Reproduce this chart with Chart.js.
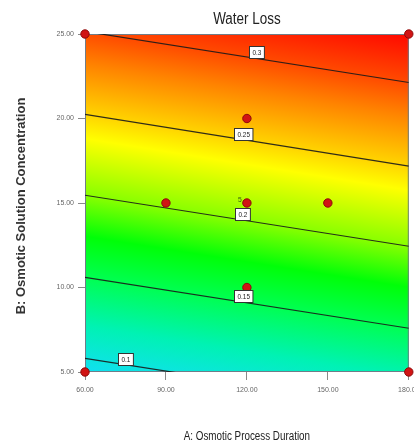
<!DOCTYPE html>
<html>
<head>
<meta charset="utf-8">
<title>Water Loss</title>
<script src="https://cdn.jsdelivr.net/npm/chart.js@4.4.1/dist/chart.umd.min.js"></script>
<style>
  html, body { margin: 0; padding: 0; background: #fff; overflow: hidden; }
  #wrap { width: 414px; height: 444px; }
</style>
</head>
<body>
<div id="wrap"><canvas id="chart" width="414" height="444"></canvas></div>
<script>
// A: osmotic process duration, B: osmotic solution concentration
const durationRange = [60, 180]
const concRange = [5, 25]

// design points (centre point has 5 replicates)
const designDuration = [60, 180, 60, 180, 120, 120, 90, 150, 120]
const designConc = [5, 5, 25, 25, 10, 20, 15, 15, 15]
const centreReplicates = 5

// contour lines: concentration where each level crosses A = 60 and A = 180
const contourLevels = [0.1, 0.15, 0.2, 0.25, 0.3]
const contourConcAtStart = [5.81, 10.60, 15.46, 20.25, 25.15]
const contourConcAtEnd = [2.79, 7.59, 12.44, 17.18, 22.13]
const contourLabelDuration = [75, 118.7, 118.5, 118.7, 123.5]

// colour ramp of the response surface
const rampLevels = [0.05, 0.09, 0.12, 0.15, 0.175, 0.2, 0.235, 0.25, 0.28, 0.3, 0.33, 0.36]
const rampColors = ['#00b8ff', '#12def4', '#00f2b4', '#00ff52', '#00ff08', '#88ff00',
  '#ffff00', '#ffd400', '#ff8400', '#ff4a00', '#ff0600', '#ff0000']

const chartTitle = 'Water Loss'
const xTitle = 'A: Osmotic Process Duration'
const yTitle = 'B: Osmotic Solution Concentration'

const sans = "'Liberation Sans', Arial, sans-serif"

function contourConc(i, a) {
  const t = (a - durationRange[0]) / (durationRange[1] - durationRange[0])
  return contourConcAtStart[i] + (contourConcAtEnd[i] - contourConcAtStart[i]) * t
}

// concentration giving a response level at duration a (piecewise between contours)
function concForLevel(level, a) {
  const n = contourLevels.length
  let j = 0
  while (j < n - 2 && level > contourLevels[j + 1]) j++
  const l0 = contourLevels[j], l1 = contourLevels[j + 1]
  const b0 = contourConc(j, a), b1 = contourConc(j + 1, a)
  return b0 + (b1 - b0) * (level - l0) / (l1 - l0)
}

// text squeezed horizontally, like a narrow typeface
function narrowText(ctx, text, x, y, size, squeeze) {
  ctx.save()
  ctx.font = size + 'px ' + sans
  ctx.translate(x, y)
  ctx.scale(squeeze, 1)
  ctx.fillText(text, 0, 0)
  ctx.restore()
}

const surfaceFill = {
  id: 'surfaceFill',
  beforeDatasetsDraw(chart) {
    const { ctx, chartArea: { left, right, top, bottom }, scales: { x, y } } = chart
    ctx.save()
    for (let px = Math.floor(left); px < Math.ceil(right); px++) {
      const a = x.getValueForPixel(px + 0.5)
      const ys = rampLevels.map(v => y.getPixelForValue(concForLevel(v, a)))
      const y0 = ys[0], y1 = ys[ys.length - 1]
      const grad = ctx.createLinearGradient(0, y0, 0, y1)
      ys.forEach((yy, i) => grad.addColorStop((yy - y0) / (y1 - y0), rampColors[i]))
      ctx.fillStyle = grad
      ctx.fillRect(px, top, 1, bottom - top)
    }
    ctx.strokeStyle = '#6f7d88'
    ctx.lineWidth = 1
    ctx.strokeRect(left + 0.5, top + 0.5, right - left - 1, bottom - top - 1)
    ctx.restore()
  }
}

const contourLabels = {
  id: 'contourLabels',
  afterDatasetsDraw(chart) {
    const { ctx, scales: { x, y } } = chart
    ctx.save()
    ctx.textAlign = 'center'
    ctx.textBaseline = 'middle'
    contourLevels.forEach((level, i) => {
      const a = contourLabelDuration[i]
      const px = x.getPixelForValue(a)
      const py = y.getPixelForValue(contourConc(i, a))
      const text = String(level)
      ctx.font = '8px ' + sans
      const w = ctx.measureText(text).width * 0.8 + 6
      const h = 12
      const bx = Math.round(px - w / 2) + 0.5
      const by = Math.round(py - h) + 0.5
      ctx.fillStyle = '#ffffff'
      ctx.fillRect(bx, by, w, h)
      ctx.strokeStyle = '#333'
      ctx.strokeRect(bx, by, w, h)
      ctx.fillStyle = '#222'
      narrowText(ctx, text, bx + w / 2, by + h / 2 + 0.5, 8, 0.8)
    })
    // replicate count beside the centre point
    ctx.fillStyle = '#2f5a10'
    narrowText(ctx, String(centreReplicates), x.getPixelForValue(120) - 7, y.getPixelForValue(15) - 3, 8, 0.85)
    ctx.restore()
  }
}

const axisTitles = {
  id: 'axisTitles',
  afterDraw(chart) {
    const { ctx, chartArea: { left, right, top, bottom } } = chart
    const cx = (left + right) / 2
    ctx.save()
    ctx.textAlign = 'center'
    ctx.textBaseline = 'middle'
    ctx.fillStyle = '#222'
    narrowText(ctx, chartTitle, cx, 20, 16, 0.84)
    narrowText(ctx, xTitle, cx, 437, 12, 0.82)
    ctx.translate(21, (top + bottom) / 2 + 3)
    ctx.rotate(-Math.PI / 2)
    ctx.fillStyle = '#333'
    ctx.font = 'bold 13px ' + sans
    ctx.fillText(yTitle, 0, 0)
    ctx.restore()
  }
}

const contourSets = contourLevels.map((level, i) => ({
  label: String(level),
  data: [
    { x: durationRange[0], y: contourConcAtStart[i] },
    { x: durationRange[1], y: contourConcAtEnd[i] }
  ],
  showLine: true,
  borderColor: 'rgba(25, 25, 25, 0.9)',
  borderWidth: 1.2,
  pointRadius: 0,
  clip: 0
}))

new Chart(document.getElementById('chart'), {
  type: 'scatter',
  data: {
    datasets: [
      {
        label: 'Design points',
        data: designDuration.map((a, i) => ({ x: a, y: designConc[i] })),
        pointRadius: 4.2,
        backgroundColor: '#d11414',
        borderColor: '#8e0a0a',
        borderWidth: 1,
        clip: false
      },
      ...contourSets
    ]
  },
  options: {
    responsive: false,
    animation: false,
    layout: { padding: { left: 0, right: 3, top: 34, bottom: 0 } },
    plugins: {
      legend: { display: false },
      tooltip: { enabled: false }
    },
    scales: {
      x: {
        type: 'linear',
        min: durationRange[0],
        max: durationRange[1],
        border: { display: false },
        grid: { drawOnChartArea: false, drawTicks: true, tickLength: 8, color: '#8a8a8a' },
        ticks: {
          stepSize: 30,
          padding: 6,
          color: '#666',
          maxRotation: 0,
          font: { family: sans, size: 7 },
          callback: v => v.toFixed(2)
        },
        afterFit(scale) {
          scale.height = 72
          scale.paddingLeft = 0
          scale.paddingRight = 0
        }
      },
      y: {
        type: 'linear',
        min: concRange[0],
        max: concRange[1],
        border: { display: false },
        grid: { drawOnChartArea: false, drawTicks: true, tickLength: 7, color: '#8a8a8a' },
        ticks: {
          stepSize: 5,
          padding: 4,
          color: '#666',
          font: { family: sans, size: 7 },
          callback: v => v.toFixed(2)
        },
        afterFit(scale) {
          scale.width = 85
          scale.paddingTop = 0
          scale.paddingBottom = 0
        }
      }
    }
  },
  plugins: [surfaceFill, contourLabels, axisTitles]
})
</script>
</body>
</html>
